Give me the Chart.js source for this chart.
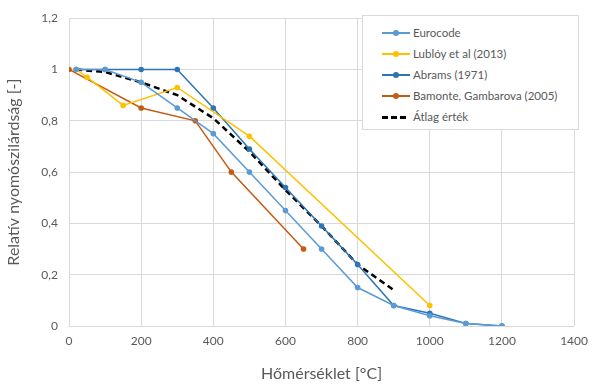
<!DOCTYPE html>
<html>
<head>
<meta charset="utf-8">
<script src="https://cdn.jsdelivr.net/npm/chart.js@4"></script>
<style>
  html, body { margin: 0; padding: 0; background: #fff; }
  #wrap { position: relative; width: 596px; height: 387px; }
  #legend {
    position: absolute; left: 362px; top: 15px; width: 217px; height: 115px;
    background: #fff; border: 1px solid #d9d9d9; box-sizing: border-box;
    font-family: Lato, "Liberation Sans", sans-serif; font-size: 11.5px; color: #595959;
    padding-top: 6px;
  }
  .item { display: flex; align-items: center; height: 21px; padding-left: 19px; }
  .sw { position: relative; width: 28px; height: 10px; margin-right: 3px; }
  .sw .ln { position: absolute; left: 0; right: 0; top: 4px; height: 2px; }
  .sw .dot { position: absolute; left: 11px; top: 2px; width: 6px; height: 6px; border-radius: 50%; }
</style>
</head>
<body>
<div id="wrap">
  <canvas id="chart" width="596" height="387"></canvas>
  <div id="legend"></div>
</div>
<script>
// Hőmérséklet [°C] és relatív nyomószilárdság értékek
const eurocodeT = [20, 100, 200, 300, 400, 500, 600, 700, 800, 900, 1000, 1100, 1200];
const eurocodeV = [1, 1, 0.95, 0.85, 0.75, 0.6, 0.45, 0.3, 0.15, 0.08, 0.04, 0.01, 0];

const lubloyT = [20, 50, 150, 300, 500, 1000];
const lubloyV = [1, 0.97, 0.86, 0.93, 0.74, 0.08];

const abramsT = [20, 100, 200, 300, 400, 500, 600, 700, 800, 900, 1000, 1100, 1200];
const abramsV = [1, 1, 1, 1, 0.85, 0.69, 0.54, 0.39, 0.24, 0.08, 0.05, 0.01, 0];

const bamonteT = [0, 200, 350, 450, 650];
const bamonteV = [1, 0.85, 0.8, 0.6, 0.3];

const atlagT = [20, 100, 200, 300, 400, 500, 600, 700, 800, 900];
const atlagV = [1, 0.99, 0.95, 0.9, 0.81, 0.68, 0.53, 0.39, 0.24, 0.14];

const xTicks = [0, 200, 400, 600, 800, 1000, 1200, 1400];
const yTicks = [0, 0.2, 0.4, 0.6, 0.8, 1, 1.2];

const seriesNames = ["Eurocode", "Lublóy et al (2013)", "Abrams (1971)", "Bamonte, Gambarova (2005)", "Átlag érték"];
const seriesColors = ["#5B9BD5", "#FFC000", "#2E75B6", "#C55A11", "#000000"];

function pts(xs, ys) {
    return xs.map((x, i) => ({ x: x, y: ys[i] }));
}

function lineSet(name, color, xs, ys) {
    return {
        label: name,
        data: pts(xs, ys),
        showLine: true,
        borderColor: color,
        backgroundColor: color,
        borderWidth: 1.5,
        pointRadius: 2.8,
        pointHoverRadius: 2.8,
        pointBorderWidth: 0
    };
}

const datasets = [
    lineSet(seriesNames[0], seriesColors[0], eurocodeT, eurocodeV),
    lineSet(seriesNames[1], seriesColors[1], lubloyT, lubloyV),
    lineSet(seriesNames[2], seriesColors[2], abramsT, abramsV),
    lineSet(seriesNames[3], seriesColors[3], bamonteT, bamonteV),
    {
        label: seriesNames[4],
        data: pts(atlagT, atlagV),
        showLine: true,
        borderColor: seriesColors[4],
        borderWidth: 2.5,
        borderDash: [6, 4],
        pointRadius: 0
    }
];

const font = "Lato, 'Liberation Sans', sans-serif";
const grey = "#595959";

new Chart(document.getElementById("chart"), {
    type: "scatter",
    data: { datasets: datasets },
    options: {
        responsive: false,
        animation: false,
        layout: { padding: { top: 15, right: 14, left: 0, bottom: 0 } },
        plugins: { legend: { display: false }, tooltip: { enabled: false } },
        scales: {
            x: {
                type: "linear",
                min: xTicks[0],
                max: xTicks[xTicks.length - 1],
                afterBuildTicks: s => { s.ticks = xTicks.map(v => ({ value: v })); },
                afterFit: s => { s.height = 61; },
                grid: { color: "#d9d9d9", drawTicks: false },
                border: { display: false },
                ticks: { color: grey, font: { family: font, size: 12 }, padding: 8, callback: v => String(v) },
                title: { display: true, text: "Hőmérséklet [°C]", color: grey, font: { family: font, size: 16 }, padding: { top: 6 } }
            },
            y: {
                min: yTicks[0],
                max: yTicks[yTicks.length - 1],
                afterBuildTicks: s => { s.ticks = yTicks.map(v => ({ value: v })); },
                afterFit: s => { s.width = 69; },
                grid: { color: "#d9d9d9", drawTicks: false },
                border: { display: false },
                ticks: {
                    color: grey, font: { family: font, size: 12 }, padding: 11,
                    callback: v => String(Math.round(v * 10) / 10).replace(".", ",")
                },
                title: { display: true, text: "Relatív nyomószilárdság [-]", color: grey, font: { family: font, size: 16 }, padding: { bottom: 4 } }
            }
        }
    }
});

// legend inside the plot area
const legend = document.getElementById("legend");
seriesNames.forEach((name, i) => {
    const item = document.createElement("div");
    item.className = "item";
    const sw = document.createElement("div");
    sw.className = "sw";
    const ln = document.createElement("div");
    ln.className = "ln";
    if (i === 4) {
        ln.style.background = "repeating-linear-gradient(90deg, #000 0 6px, transparent 6px 9px)";
        ln.style.height = "3px";
        ln.style.right = "2px";
    } else {
        ln.style.background = seriesColors[i];
        const dot = document.createElement("div");
        dot.className = "dot";
        dot.style.background = seriesColors[i];
        sw.appendChild(dot);
    }
    sw.insertBefore(ln, sw.firstChild);
    item.appendChild(sw);
    const label = document.createElement("span");
    label.textContent = name;
    item.appendChild(label);
    legend.appendChild(item);
});
</script>
</body>
</html>
